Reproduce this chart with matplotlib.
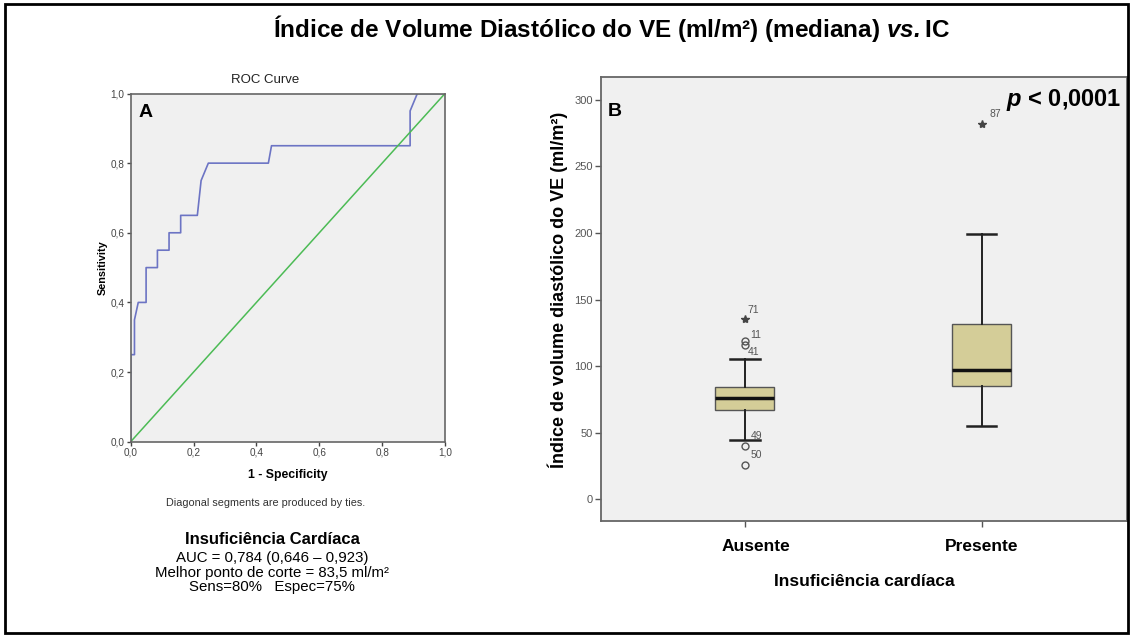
import matplotlib
matplotlib.use("Agg")
import matplotlib.pyplot as plt
from matplotlib.patches import Rectangle
from matplotlib.ticker import FuncFormatter, MultipleLocator
from matplotlib.transforms import ScaledTranslation

plt.rcParams["font.family"] = ["Liberation Sans", "DejaVu Sans"]
plt.rcParams["mathtext.fontset"] = "custom"
plt.rcParams["mathtext.bfit"] = "Liberation Sans:bold:italic"
plt.rcParams["mathtext.bf"] = "Liberation Sans:bold"
plt.rcParams["mathtext.rm"] = "Liberation Sans"

# --- painel A: curva ROC ---
fpr = [0.0, 0.0, 0.012, 0.012, 0.024, 0.049, 0.049, 0.085, 0.085, 0.122, 0.122,
       0.159, 0.159, 0.212, 0.224, 0.247, 0.438, 0.448, 0.889, 0.889, 0.912, 1.0]
tpr = [0.0, 0.25, 0.25, 0.35, 0.40, 0.40, 0.50, 0.50, 0.55, 0.55, 0.60,
       0.60, 0.65, 0.65, 0.75, 0.80, 0.80, 0.85, 0.85, 0.95, 1.0, 1.0]
chance = [0.0, 1.0]
roc_ticks = [0.0, 0.2, 0.4, 0.6, 0.8, 1.0]

auc_lines = ["AUC = 0,784 (0,646 \u2013 0,923)",
             "Melhor ponto de corte = 83,5 ml/m\u00b2",
             "Sens=80%   Espec=75%"]

# --- painel B: boxplot por grupo ---
groups = ["Ausente", "Presente"]
q1 = [66.9, 84.9]
median = [75.7, 96.7]
q3 = [84.0, 131.3]
whis_lo = [44.3, 55.1]
whis_hi = [105.2, 199.1]

# outliers (circulos) e extremos (estrelas), com o numero do caso
out_group = [0, 0, 0, 0]
out_vals = [119.0, 115.5, 39.8, 25.3]
out_ids = ["11", "41", "49", "50"]
ext_group = [0, 1]
ext_vals = [135.0, 282.2]
ext_ids = ["71", "87"]

W, H = 1133, 637
fig = plt.figure(figsize=(W / 100, H / 100), dpi=100)


def px_axes(left, top, right, bottom):
    return fig.add_axes([left / W, 1 - bottom / H, (right - left) / W, (bottom - top) / H])


comma = FuncFormatter(lambda v, p: f"{v:.1f}".replace(".", ","))
bg = "#f0f0f0"
frame = "#666666"

# ROC
axA = px_axes(130.7, 93.5, 445.0, 441.7)
axA.set_facecolor(bg)
axA.plot(fpr, tpr, color="#6c74c4", lw=1.2)
axA.plot(chance, chance, color="#4cbb55", lw=1.1)
axA.set_xlim(0, 1)
axA.set_ylim(0, 1)
axA.set_xticks(roc_ticks)
axA.set_yticks(roc_ticks)
axA.xaxis.set_major_formatter(comma)
axA.yaxis.set_major_formatter(comma)
axA.tick_params(labelsize=7.2, colors="#444444", length=3, width=1, pad=1.5)
for s in axA.spines.values():
    s.set_color(frame)
    s.set_linewidth(1.2)
fig.text(265 / W, 1 - 80 / H, "ROC Curve", fontsize=9.5, color="#222222",
         ha="center", va="center")
axA.set_xlabel("1 - Specificity", fontsize=8.8, fontweight="bold", labelpad=8)
axA.set_ylabel("Sensitivity", fontsize=7.8, fontweight="bold", labelpad=2)
axA.text(0.025, 0.945, "A", transform=axA.transAxes, fontsize=14,
         fontweight="bold", va="center", ha="left")

fig.text(266 / W, 1 - 503 / H, "Diagonal segments are produced by ties.",
         fontsize=7.8, color="#333333", ha="center", va="center")
fig.text(272 / W, 1 - 540 / H, "Insufici\u00eancia Card\u00edaca", fontsize=12,
         fontweight="bold", ha="center", va="center")
for i, line in enumerate(auc_lines):
    fig.text(272 / W, 1 - (558 + 14.6 * i) / H, line, fontsize=10.8,
             ha="center", va="center")

# Boxplot
axB = px_axes(600.7, 76.7, 1127.0, 521.0)
axB.set_facecolor(bg)
stats = []
for i, g in enumerate(groups):
    stats.append({"label": g, "q1": q1[i], "med": median[i], "q3": q3[i],
                  "whislo": whis_lo[i], "whishi": whis_hi[i], "fliers": []})
axB.bxp(stats, positions=[1, 2], widths=0.25, capwidths=0.125, patch_artist=True,
        showfliers=False,
        boxprops=dict(facecolor="#d4cd98", edgecolor="#555555", lw=1),
        medianprops=dict(color="#111111", lw=2.5),
        whiskerprops=dict(color="#222222", lw=1.4),
        capprops=dict(color="#222222", lw=1.8))

pos = [1, 2]
axB.plot([pos[g] for g in out_group], out_vals, linestyle="none", marker="o",
         ms=5, mfc="none", mec="#555555", mew=1)
axB.plot([pos[g] for g in ext_group], ext_vals, linestyle="none", marker="*",
         ms=6, color="#444444")

out_offsets = [(5, 6), (3, -7), (6, 10), (6, 10)]
ext_offsets = [(3, 9), (8, 10)]
for g, v, t, off in zip(out_group, out_vals, out_ids, out_offsets):
    axB.annotate(t, (pos[g], v), xytext=off, textcoords="offset pixels",
                 fontsize=7.5, color="#555555", ha="left", va="center")
for g, v, t, off in zip(ext_group, ext_vals, ext_ids, ext_offsets):
    axB.annotate(t, (pos[g], v), xytext=off, textcoords="offset pixels",
                 fontsize=7.5, color="#555555", ha="left", va="center")

axB.set_xlim(0.392, 2.614)
axB.set_ylim(-16.5, 317.5)
axB.yaxis.set_major_locator(MultipleLocator(50))
axB.tick_params(axis="y", labelsize=8, colors="#555555", length=4, width=1, pad=1.5)
axB.tick_params(axis="x", length=4, width=1, colors="#555555", pad=9)
label_shift = [0.11, 0.0]
for lab, dx in zip(axB.get_xticklabels(), label_shift):
    lab.set_fontsize(12.5)
    lab.set_fontweight("bold")
    lab.set_color("black")
    lab.set_transform(lab.get_transform() + ScaledTranslation(dx, 0, fig.dpi_scale_trans))
for s in axB.spines.values():
    s.set_color(frame)
    s.set_linewidth(1.3)
axB.set_xlabel("Insufici\u00eancia card\u00edaca", fontsize=12.5, fontweight="bold",
               labelpad=14)
fig.text(558 / W, 1 - 290 / H, "\u00cdndice de volume diast\u00f3lico do VE (ml/m\u00b2)",
         fontsize=13, fontweight="bold", rotation=90, ha="center", va="center")
axB.text(0.880, 0.9476, r"$\mathbfit{p}$ < 0,0001", transform=axB.transAxes,
         fontsize=17, fontweight="bold", ha="center", va="center")
axB.text(0.013, 0.9206, "B", transform=axB.transAxes, fontsize=14,
         fontweight="bold", va="center", ha="left")

# titulo geral
fig.text(612 / W, 1 - 28 / H,
         "\u00cdndice de Volume Diast\u00f3lico do VE (ml/m\u00b2) (mediana) "
         r"$\mathbfit{vs.}$IC",
         fontsize=17.5, fontweight="bold", ha="center", va="center")

fig.patches.append(Rectangle((5 / W, 4 / H), 1123 / W, 629 / H, transform=fig.transFigure,
                             fill=False, lw=2, ec="black"))

fig.savefig("out.png", dpi=100, facecolor="white")
